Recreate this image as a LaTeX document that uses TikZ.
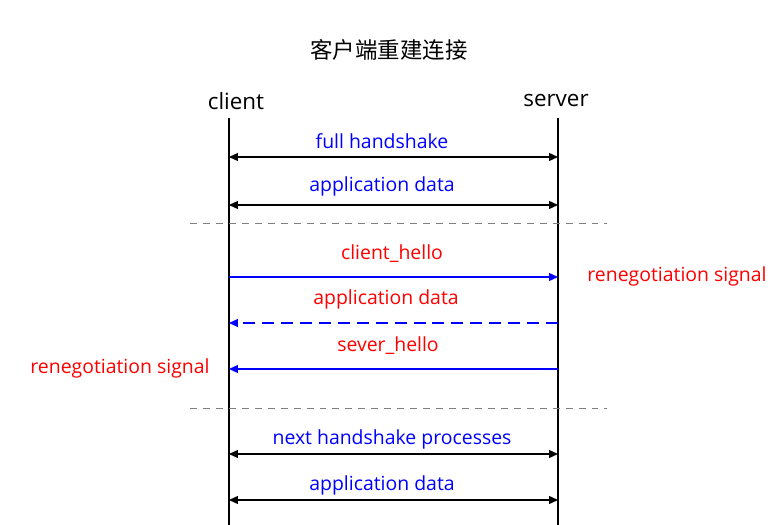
\documentclass[tikz,border=0pt]{standalone}
\usepackage{fontspec}
\setmainfont{Open Sans}
\newfontfamily\cjk{Noto Sans CJK SC}
\usetikzlibrary{arrows.meta}
\begin{document}
\begin{tikzpicture}[x=1bp,y=-1bp,
  lbl/.style={font=\fontsize{19.5}{22}\selectfont},
  big/.style={font=\fontsize{22.5}{26}\selectfont},
  msg/.style={line width=1.3pt,-{Triangle[length=9pt,width=8pt]}},
  both/.style={line width=1.3pt,{Triangle[length=9pt,width=8pt]}-{Triangle[length=9pt,width=8pt]}},
  sep/.style={gray,line width=1pt,dash pattern=on 7pt off 6pt}]
\useasboundingbox (0,0) rectangle (779,525);
\node[font=\cjk\fontsize{22.5}{26}\selectfont] (title) at (389,50) {客户端重建连接};
\node[big] (cl) at (236,101) {client};
\node[big] (sv) at (556,101) {server};
\coordinate (c0) at (229,118); \coordinate (c1) at (229,525);
\coordinate (s0) at (558,118); \coordinate (s1) at (558,525);
\draw[line width=1.2pt] (c0) -- (c1);
\draw[line width=1.2pt] (s0) -- (s1);
\foreach \n/\y in {a/157,b/205,c/277,d/323,e/369,f/454,g/500}{
  \coordinate (cl\n) at (229,\y); \coordinate (sv\n) at (558,\y);}
\draw[both] (cla) -- (sva);
\node[lbl,blue] (la) at (382,141) {full handshake};
\draw[both] (clb) -- (svb);
\node[lbl,blue] (lb) at (382,186) {application data};
\coordinate (d1a) at (190,223); \coordinate (d1b) at (607,223);
\draw[sep] (d1a) -- (d1b);
\draw[msg,blue] (clc) -- (svc);
\node[lbl,red] (lc) at (392,254) {client\_hello};
\node[lbl,red] (rs1) at (677,276) {renegotiation signal};
\draw[msg,blue,dash pattern=on 12pt off 7pt] (svd) -- (cld);
\node[lbl,red] (ld) at (386,299) {application data};
\draw[msg,blue] (sve) -- (cle);
\node[lbl,red] (le) at (388,346) {sever\_hello};
\node[lbl,red] (rs2) at (120,368) {renegotiation signal};
\coordinate (d2a) at (190,408); \coordinate (d2b) at (607,408);
\draw[sep] (d2a) -- (d2b);
\draw[both] (clf) -- (svf);
\node[lbl,blue] (lf) at (392,439) {next handshake processes};
\draw[both] (clg) -- (svg);
\node[lbl,blue] (lg) at (382,485) {application data};
\end{tikzpicture}
\end{document}
